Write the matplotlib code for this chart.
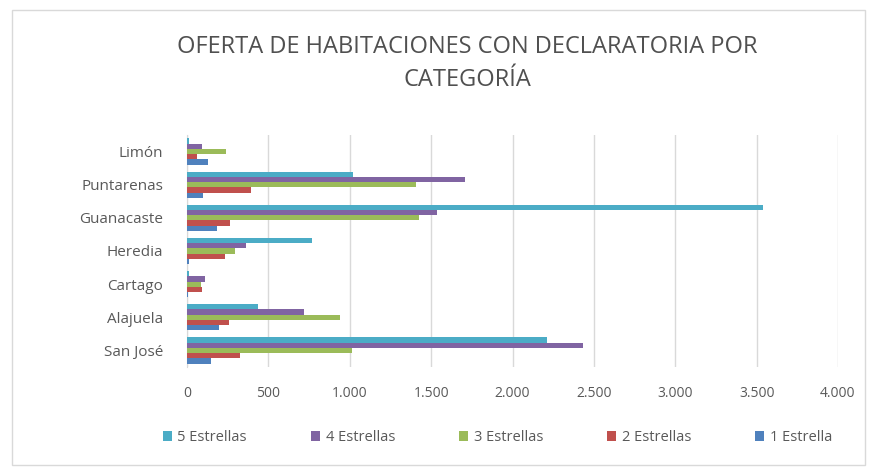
import matplotlib.pyplot as plt
import numpy as np
from matplotlib.patches import Rectangle

plt.rcParams['font.family'] = ['Open Sans', 'DejaVu Sans']

# Categories (bottom to top, Excel order)
provincias = ['San José', 'Alajuela', 'Cartago', 'Heredia', 'Guanacaste', 'Puntarenas', 'Limón']

# Habitaciones por categoría
estrella_1 = [146, 197, 5, 15, 182, 100, 127]
estrella_2 = [326, 258, 90, 233, 264, 393, 60]
estrella_3 = [1011, 940, 84, 295, 1427, 1405, 240]
estrella_4 = [2435, 719, 110, 362, 1534, 1708, 92]
estrella_5 = [2210, 438, 10, 770, 3537, 1022, 10]

series = [
    ('1 Estrella', estrella_1, '#4F81BD'),
    ('2 Estrellas', estrella_2, '#C0504D'),
    ('3 Estrellas', estrella_3, '#9BBB59'),
    ('4 Estrellas', estrella_4, '#8064A2'),
    ('5 Estrellas', estrella_5, '#4BACC6'),
]
xticks = [0, 500, 1000, 1500, 2000, 2500, 3000, 3500, 4000]
xtick_labels = ['0', '500', '1.000', '1.500', '2.000', '2.500', '3.000', '3.500', '4.000']

fig = plt.figure(figsize=(8.73, 4.72), dpi=100)
frame = Rectangle((12 / 873, 7 / 472), 853 / 873, 455 / 472, transform=fig.transFigure,
                  facecolor='white', edgecolor='#D9D9D9', lw=1, zorder=-5)
fig.patches.append(frame)
ax = fig.add_axes([187 / 873, 105 / 472, 651 / 873, 232 / 472])
ax.set_zorder(2)
ax.patch.set_alpha(0)

y = np.arange(len(provincias))
h = 0.158
for i, (name, vals, col) in enumerate(series):
    ax.barh(y + (i - 2) * h, vals, height=h, color=col, label=name, zorder=3)

ax.set_xlim(0, 4000)
ax.set_ylim(-0.5, len(provincias) - 0.5)
ax.set_xticks(xticks)
ax.set_xticklabels(xtick_labels)
ax.set_yticks(y)
ax.set_yticklabels(provincias)
ax.tick_params(axis='both', length=0, labelsize=10, colors='#595959')
ax.tick_params(axis='x', pad=14)
ax.tick_params(axis='y', pad=17, labelsize=11)
ax.grid(axis='x', color='#D9D9D9', lw=1, zorder=0)
for s in ['top', 'right', 'bottom']:
    ax.spines[s].set_visible(False)
ax.spines['left'].set_color('#D9D9D9')

fig.text(0.535, 0.865, 'OFERTA DE HABITACIONES CON DECLARATORIA POR\nCATEGORÍA',
         ha='center', va='center', fontsize=17, color='#505050', linespacing=1.5)

handles, labels = ax.get_legend_handles_labels()
fig.legend(handles[::-1], labels[::-1], loc='center', bbox_to_anchor=(0.570, 0.073), ncol=5,
           frameon=False, fontsize=10.5, labelcolor='#595959', handlelength=0.6, handleheight=0.6,
           handletextpad=0.4, columnspacing=4.4)

plt.savefig('out.png', dpi=100)
